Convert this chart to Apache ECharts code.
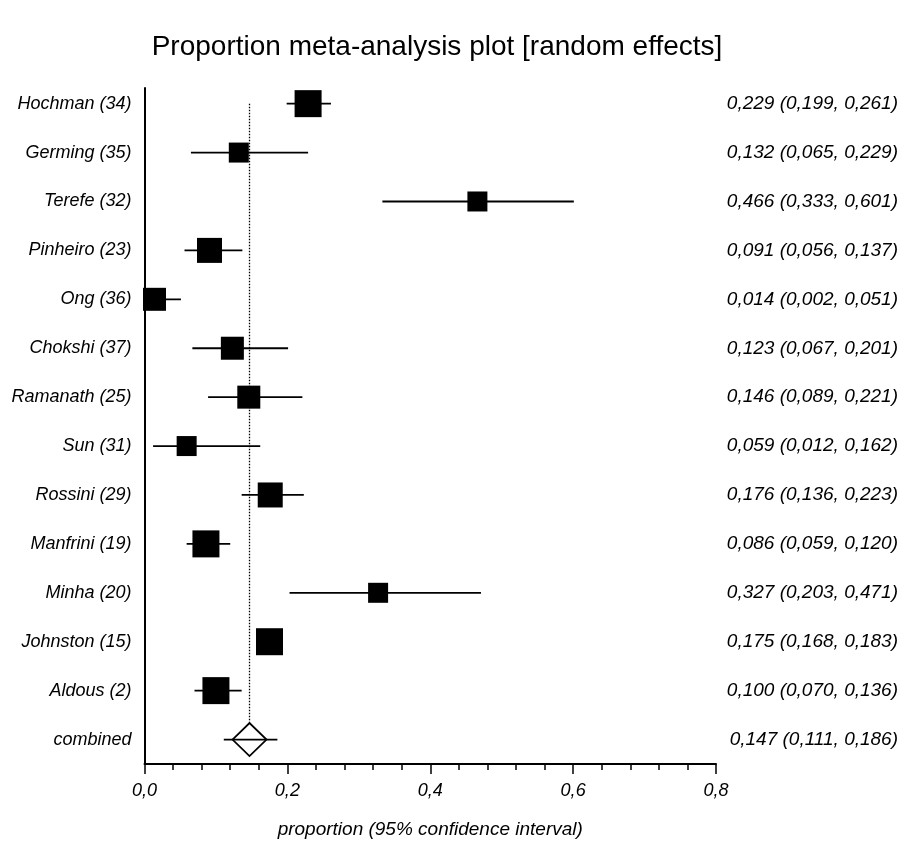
<!DOCTYPE html>
<html>
<head>
<meta charset="utf-8">
<script src="https://cdn.jsdelivr.net/npm/echarts@6/dist/echarts.min.js"></script>
<style>
html,body{margin:0;padding:0;background:#fff;}
#chart{width:902px;height:844px;}
</style>
</head>
<body>
<div id="chart"></div>
<script>
// ---- data ----
const studies = ["Hochman (34)", "Germing (35)", "Terefe (32)", "Pinheiro (23)", "Ong (36)", "Chokshi (37)", "Ramanath (25)", "Sun (31)", "Rossini (29)", "Manfrini (19)", "Minha (20)", "Johnston (15)", "Aldous (2)"];
const estimate = [0.229, 0.132, 0.466, 0.091, 0.014, 0.123, 0.146, 0.059, 0.176, 0.086, 0.327, 0.175, 0.100];
const lower    = [0.199, 0.065, 0.333, 0.056, 0.002, 0.067, 0.089, 0.012, 0.136, 0.059, 0.203, 0.168, 0.070];
const upper    = [0.261, 0.229, 0.601, 0.137, 0.051, 0.201, 0.221, 0.162, 0.223, 0.120, 0.471, 0.183, 0.136];
const pooledLabel = "combined";
const pooled = [0.147, 0.111, 0.186];
const xTicks = [0, 0.2, 0.4, 0.6, 0.8];

// ---- styles ----
const boxPx = [27, 20, 20, 25, 23, 23, 23, 20, 25, 27, 20, 27, 27];
const FONT = '"Liberation Sans", Arial, sans-serif';
const fmt = v => v.toFixed(3).replace('.', ',');
const nRows = studies.length;

const studyData = studies.map((s, i) => [estimate[i], nRows - i, lower[i], upper[i]]);

function textEl(x, y, text, align, size) {
  return {type: 'text', x: x, y: y, style: {text: text, align: align, verticalAlign: 'middle',
    fontSize: size, fontStyle: 'italic', fontFamily: FONT, fill: '#000'}};
}

function renderStudy(params, api) {
  const i = params.dataIndex;
  const y = api.coord([0, api.value(1)])[1];
  const xc = api.coord([api.value(0), 0])[0];
  const xl = api.coord([api.value(2), 0])[0];
  const xh = api.coord([api.value(3), 0])[0];
  const x0 = api.coord([xTicks[0], 0])[0];
  const xEnd = api.coord([xTicks[xTicks.length - 1], 0])[0];
  const s = boxPx[i];
  return {type: 'group', children: [
    {type: 'line', shape: {x1: xl, y1: y, x2: xh, y2: y}, style: {stroke: '#000', lineWidth: 1.8}},
    {type: 'rect', shape: {x: xc - s / 2, y: y - s / 2, width: s, height: s}, style: {fill: '#000'}},
    textEl(x0 - 13, y, studies[i], 'right', 18),
    textEl(xEnd + 182, y, fmt(api.value(0)) + ' (' + fmt(api.value(2)) + ', ' + fmt(api.value(3)) + ')', 'right', 19)
  ]};
}

function renderPooled(params, api) {
  const y = api.coord([0, api.value(1)])[1];
  const yTop = api.coord([0, nRows])[1];
  const xc = api.coord([api.value(0), 0])[0];
  const xl = api.coord([api.value(2), 0])[0];
  const xh = api.coord([api.value(3), 0])[0];
  const x0 = api.coord([xTicks[0], 0])[0];
  const xEnd = api.coord([xTicks[xTicks.length - 1], 0])[0];
  const hw = 17, hh = 16.5;
  return {type: 'group', children: [
    {type: 'line', shape: {x1: xc, y1: yTop, x2: xc, y2: y - hh}, style: {stroke: '#000', lineWidth: 1.3, lineDash: [1.5, 1.5]}},
    {type: 'polygon', shape: {points: [[xc - hw, y], [xc, y - hh], [xc + hw, y], [xc, y + hh]]}, style: {fill: '#fff', stroke: '#000', lineWidth: 1.8}},
    {type: 'line', shape: {x1: xl, y1: y, x2: xh, y2: y}, style: {stroke: '#000', lineWidth: 1.8}},
    textEl(x0 - 13, y, pooledLabel, 'right', 18),
    textEl(xEnd + 182, y, fmt(api.value(0)) + ' (' + fmt(api.value(2)) + ', ' + fmt(api.value(3)) + ')', 'right', 19)
  ]};
}

const chart = echarts.init(document.getElementById('chart'), null, {renderer: 'canvas'});
chart.setOption({
  animation: false,
  backgroundColor: '#fff',
  title: {
    text: 'Proportion meta-analysis plot [random effects]',
    left: 432, top: 28, textAlign: 'center',
    textStyle: {fontFamily: FONT, fontSize: 28, fontWeight: 'normal', color: '#000'}
  },
  grid: {left: 144.5, right: 186, top: 88, bottom: 70, containLabel: false},
  xAxis: {
    type: 'value', min: xTicks[0], max: xTicks[xTicks.length - 1], interval: 0.2,
    axisLine: {show: true, onZero: false, lineStyle: {color: '#000', width: 2}},
    axisTick: {show: true, length: 10, lineStyle: {color: '#000', width: 1.5}},
    minorTick: {show: true, splitNumber: 5, length: 6, lineStyle: {color: '#000', width: 1.5}},
    splitLine: {show: false},
    axisLabel: {margin: 18, fontSize: 18, fontStyle: 'italic', fontFamily: FONT, color: '#000',
      formatter: v => v.toFixed(1).replace('.', ',')},
    name: 'proportion (95% confidence interval)',
    nameLocation: 'middle', nameGap: 56,
    nameTextStyle: {fontSize: 19, fontStyle: 'italic', fontFamily: FONT, color: '#000'}
  },
  yAxis: {
    type: 'value', min: -0.5, max: 13.32,
    axisLine: {show: true, onZero: false, lineStyle: {color: '#000', width: 2}},
    axisTick: {show: false}, axisLabel: {show: false}, splitLine: {show: false}
  },
  series: [
    {type: 'custom', clip: false, renderItem: renderPooled, data: [[pooled[0], 0, pooled[1], pooled[2]]], z: 2},
    {type: 'custom', clip: false, renderItem: renderStudy, data: studyData, z: 3}
  ]
});
</script>
</body>
</html>
